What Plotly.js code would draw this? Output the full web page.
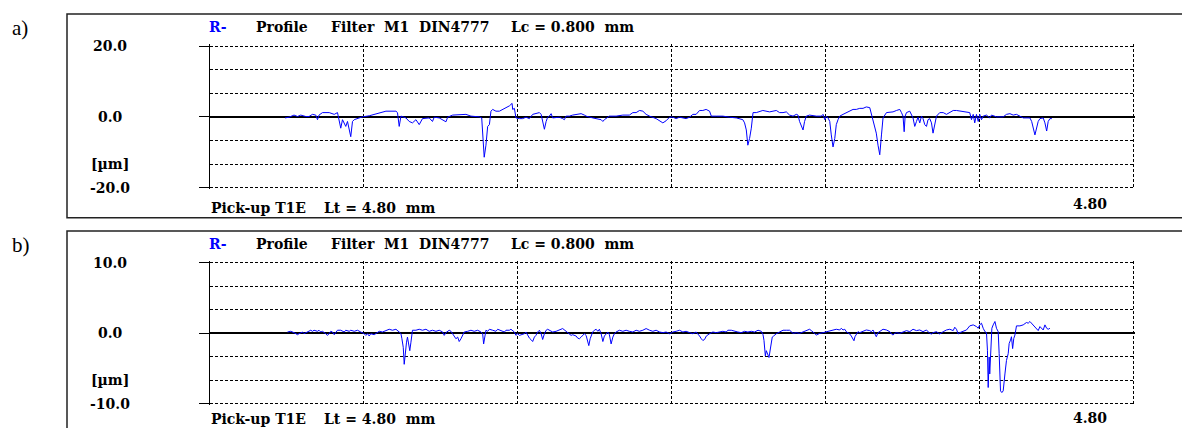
<!DOCTYPE html>
<html>
<head>
<meta charset="utf-8">
<script src="https://cdn.plot.ly/plotly-3.0.1.min.js"></script>
<style>html,body{margin:0;padding:0;background:#fff;}#chart{width:1182px;height:428px;}</style>
</head>
<body>
<div id="chart"></div>
<script>
// ---- Panel a) profile (x in mm, z in µm)
const topX = [0.390,0.411,0.437,0.455,0.472,0.498,0.515,0.533,0.550,0.559,0.567,0.585,0.620,0.646,0.663,0.672,0.680,0.689,0.698,0.706,0.715,0.724,0.732,0.741,0.750,0.776,0.793,0.828,0.854,0.880,0.915,0.967,0.975,0.984,0.993,1.019,1.036,1.053,1.071,1.088,1.105,1.140,1.157,1.166,1.192,1.227,1.236,1.262,1.296,1.331,1.357,1.400,1.413,1.418,1.426,1.435,1.444,1.453,1.461,1.470,1.487,1.505,1.522,1.539,1.557,1.571,1.574,1.583,1.591,1.609,1.626,1.643,1.661,1.678,1.695,
1.704,1.713,1.722,1.730,1.739,1.748,1.756,1.765,1.774,1.782,1.800,1.817,1.834,1.843,1.852,1.869,1.886,1.921,1.930,1.947,1.956,1.990,2.008,2.034,2.043,2.051,2.077,2.112,2.147,2.181,2.199,2.216,2.234,2.251,2.268,2.286,2.320,2.338,2.355,2.372,2.390,2.407,2.424,2.442,2.459,2.476,2.494,2.511,2.528,2.546,2.563,2.580,2.598,2.607,2.633,2.667,2.702,2.737,2.771,2.780,2.789,2.797,2.806,2.815,2.824,2.841,2.875,2.910,2.945,2.962,2.980,2.997,3.014,
3.032,3.049,3.058,3.066,3.084,3.092,3.101,3.118,3.153,3.179,3.188,3.197,3.205,3.214,3.223,3.231,3.240,3.249,3.257,3.266,3.275,3.292,3.309,3.327,3.344,3.361,3.379,3.396,3.413,3.431,3.439,3.448,3.457,3.465,3.474,3.483,3.492,3.500,3.518,3.535,3.552,3.570,3.587,3.596,3.604,3.610,3.615,3.622,3.639,3.656,3.665,3.674,3.682,3.691,3.700,3.708,3.717,3.726,3.734,3.743,3.752,3.760,3.769,3.778,3.795,3.813,3.830,3.847,3.865,3.882,3.899,3.917,3.934,3.951,3.960,3.969,3.977,3.986,3.995,4.003,4.012,4.021,4.038,4.055,4.064,4.090,4.125,4.142,4.160,4.177,4.194,4.212,4.229,4.264,4.273,4.290,4.298,4.307,4.316,4.333,4.342,4.351,4.359,4.368,4.378];
const topZ = [-0.3,-0.1,0.5,0.1,0.5,0.1,0.1,0.7,0.5,-0.8,0.5,1.2,1.2,0.7,1.2,-0.8,-3.2,-0.8,-1.7,-2.7,-1.3,-3.2,-5.6,-1.3,-0.8,-0.3,0,0.3,0.7,1.2,1.6,1.6,1.2,-2.7,0.2,-0.3,-1.3,-1.7,-0.8,-2.2,-0.5,-0.3,-1.3,-0.1,-0.3,-1.4,-0.1,0.5,0.7,0.7,0.2,0,-0.3,-4.2,-11.4,-8.0,-2.7,-2.2,1.6,2.1,1.6,1.6,2.1,2.6,3.1,3.8,2.1,2.4,-0.3,-0.5,-0.5,-0.1,-0.5,0.7,0.9,
0.9,1.2,0.7,-1.3,-3.5,-1.3,-0.1,0.2,0.9,-0.3,-0.3,-0.1,-0.5,-0.8,0.2,0.2,0.5,0.7,0.9,0.5,0.2,-0.3,-0.5,-0.8,-1.3,-0.8,0.2,0.2,0.5,0.5,1.2,1.2,1.8,1.6,0.7,0.2,-0.5,-1.1,-1.7,-1.1,-0.1,-0.1,-0.5,-0.1,-0.3,-0.5,-0.1,0.7,0.7,1.8,1.8,2.1,1.6,0.2,0.2,0.2,-0.1,-0.3,-0.8,-1.7,-3.7,-8.0,-6.1,-3.2,1.2,1.2,1.8,1.4,1.8,1.2,1.2,1.4,0.5,
0.2,0.7,0.5,-1.3,-3.7,-1.3,0.2,0.5,0.2,0.2,0.7,-0.8,0.2,-0.3,-1.3,-5.1,-8.5,-6.1,-2.2,-0.8,0.2,0.7,1.2,1.6,2.1,2.1,2.4,2.4,2.8,2.6,0.7,-1.3,-2.7,-4.6,-8.0,-10.7,-5.1,-0.3,1.2,1.2,1.4,1.8,2.1,1.2,0.2,-4.2,0.2,1.2,1.6,-0.3,-2.7,-1.3,-0.1,-1.7,0.2,-0.5,-2.2,-2.7,-0.8,-0.5,-1.7,-4.6,-2.2,0.2,1.2,1.2,0.7,1.2,1.8,1.8,1.6,1.4,1.4,1.2,-0.8,0.7,-1.7,0.7,-1.3,0.7,-0.8,0.2,0.5,-0.3,0.5,0,0,0.7,0.9,0.5,0.7,0.2,-0.3,-0.3,-1.3,-5.1,-3.2,-1.3,-0.5,-0.3,-1.7,-4.0,-1.3,-0.5,-0.5];

// ---- Panel b) profile (x in mm, z in µm)
const botX = [0.403,0.420,0.437,0.455,0.463,0.481,0.489,0.507,0.524,0.533,0.541,0.559,0.567,0.576,0.585,0.602,0.611,0.619,0.628,0.637,0.646,0.663,0.680,0.698,0.706,0.724,0.732,0.750,0.767,0.784,0.802,0.810,0.819,0.828,0.836,0.854,0.871,0.880,0.897,0.915,0.932,0.949,0.967,0.984,0.993,0.998,1.005,1.010,1.015,1.022,1.027,1.033,1.039,1.045,1.050,1.053,1.071,1.088,1.105,1.123,1.140,1.157,1.175,1.192,1.210,1.218,1.227,1.244,1.253,1.262,1.270,1.279,1.288,1.296,1.305,1.314,1.322,1.340,1.357,1.374,1.392,1.409,1.418,1.423,1.430,1.435,1.444,1.453,1.470,1.487,1.496,1.513,1.531,1.539,1.557,1.565,1.574,1.583,1.591,1.600,1.609,1.617,1.635,1.643,1.652,1.661,1.669,1.678,1.687,1.695,1.704,
1.713,1.722,1.730,1.739,1.748,1.756,1.765,1.774,1.782,1.800,1.817,1.834,1.852,1.869,1.878,1.886,1.904,1.912,1.921,1.930,1.938,1.947,1.956,1.964,1.970,1.977,1.982,1.990,1.999,2.008,2.017,2.025,2.034,2.043,2.051,2.060,2.069,2.077,2.086,2.095,2.103,2.112,2.129,2.147,2.164,2.181,2.199,2.216,2.233,2.251,2.268,2.286,2.303,2.320,2.338,2.355,2.372,2.390,2.407,2.424,2.442,2.459,2.476,2.494,2.511,2.528,2.537,2.546,2.555,2.563,2.572,2.581,2.598,2.615,2.633,2.650,2.667,2.685,2.693,2.711,2.728,2.745,2.763,2.780,2.797,2.815,2.832,2.850,2.867,2.876,2.881,2.888,2.893,2.902,2.907,2.914,2.919,2.924,2.931,2.945,2.962,2.980,2.997,3.014,
3.032,3.049,3.066,3.084,3.101,3.118,3.127,3.136,3.144,3.153,3.171,3.188,3.205,3.223,3.240,3.257,3.275,3.283,3.292,3.301,3.309,3.327,3.335,3.344,3.349,3.354,3.361,3.370,3.379,3.396,3.413,3.431,3.439,3.448,3.457,3.465,3.474,3.483,3.500,3.518,3.535,3.544,3.552,3.561,3.570,3.587,3.604,3.622,3.639,3.656,3.674,3.691,3.708,3.726,3.743,3.752,3.760,3.778,3.795,3.804,3.813,3.830,3.847,3.865,3.873,3.882,3.891,3.899,3.917,3.934,3.951,3.969,3.986,3.995,4.003,4.012,4.021,4.030,4.038,4.043,4.047,4.052,4.055,4.061,4.066,4.073,4.082,4.090,4.099,4.104,4.111,4.118,4.125,4.134,4.142,4.151,4.156,4.163,4.168,4.174,4.180,4.186,4.191,4.194,4.212,4.229,4.246,4.255,4.264,4.273,4.281,4.299,4.307,4.316,4.325,4.333,4.342,4.351,4.359,4.368];
const botZ = [0.14,0.24,0.05,-0.24,-0.10,0.14,-0.10,0.14,0.39,0.24,0.39,0.24,0.39,0.14,0.24,-0.10,-0.34,-0.10,0.24,0.14,-0.24,0.39,0.39,0.14,0.39,0.24,0.39,0.24,0.39,0.14,-0.10,-0.34,-0.10,-0.43,-0.10,-0.24,0.14,0.24,0.14,0.39,0.53,0.39,0.53,0.14,-0.10,-0.82,-2.03,-4.44,-2.75,-1.30,-0.58,-1.79,-2.51,-1.30,0.14,0.39,0.39,0.53,0.39,0.53,0.24,0.39,0.24,0.39,0.14,-0.34,0.05,0.39,0.24,-0.10,-0.34,-0.82,-0.58,-1.21,-0.82,-0.34,0.14,0.24,0.39,0.24,0.39,0.14,-0.10,-1.55,-0.10,0.39,0.24,0.53,0.39,0.24,0.53,0.39,0.14,0.39,0.39,0.53,0.39,0.14,-0.34,-0.10,-0.34,-0.24,-0.10,0.14,-0.34,-0.72,-0.92,-1.21,-0.58,-0.34,0.14,
0.39,-0.10,-0.92,-0.10,0.39,0.53,0.39,0.24,0.14,0.24,0.39,0.63,0.24,-0.10,-0.34,-0.24,-0.43,-0.72,-0.82,-0.58,-0.34,-0.10,-0.34,-1.06,-1.79,-0.82,-0.34,0.14,0.39,0.53,0.24,0.53,-0.10,-1.21,-0.43,-0.10,0.14,-0.24,-1.55,-0.58,-0.10,0.14,0.39,0.24,0.39,0.24,0.14,0.39,0.24,0.39,0.63,0.39,0.24,0.39,0.14,0.05,0.14,-0.10,0.14,0.24,0.39,0.14,0.24,0.05,-0.10,0.14,-0.10,-0.43,-0.82,-1.06,-0.92,-0.43,-0.10,0.14,0.05,0.14,0.24,0.14,0.39,0.39,0.24,0.14,0.05,0.24,0.14,0.24,0.14,0.39,0.24,-0.24,-1.06,-3.24,-2.51,-2.99,-3.48,-2.27,-1.30,-0.58,-0.43,-0.10,0.14,0.39,0.39,0.39,
-0.05,0.05,-0.05,0.19,0.34,0.53,0.34,0.19,-0.05,-0.29,-0.05,0.05,0.19,0.34,0.43,0.53,0.43,0.67,0.43,0.53,0.19,-0.14,-0.43,-0.77,-1.10,-0.53,-0.14,0.19,0.05,0.19,0.43,0.34,0.19,0.43,-0.14,-0.53,0.05,0.19,0.53,0.43,0.19,-0.14,-0.29,-0.05,0.05,-0.05,0.19,0.34,0.19,0.53,0.34,0.43,0.19,0.43,-0.05,-0.14,0.05,0.19,-0.14,0.05,0.19,0.43,0.53,0.34,0.82,0.53,-0.14,0.05,0.19,0.43,1.01,1.15,0.91,0.67,1.15,1.39,0.67,0.19,0.05,-2.45,-7.73,-3.41,-5.81,-1.97,0.67,1.15,1.63,0.67,0.19,-2.93,-8.21,-8.45,-8.21,-5.81,-3.89,-2.93,-1.49,-1.01,-0.53,-2.21,-0.77,-0.29,0.67,1.01,1.01,1.15,1.49,1.39,1.63,1.39,1.15,0.67,0.34,0.91,0.67,0.43,1.15,0.67,0.53,0.67];

// ---- axis / label values
const lengthMM = 4.80;
const xGrid = [0.8, 1.6, 2.4, 3.2, 4.0, 4.8];
const topRange = 20, botRange = 10;
const topTickText = ["20.0", "0.0", "-20.0"];
const botTickText = ["10.0", "0.0", "-10.0"];
const unitLabel = "[µm]";
const panelLetters = ["a)", "b)"];
const titleParts = ["R-", "Profile", "Filter\u00a0\u00a0M1\u00a0\u00a0DIN4777", "Lc = 0.800\u00a0\u00a0mm"];
const footParts = ["Pick-up T1E", "Lt = 4.80\u00a0\u00a0mm"];
const endLabel = "4.80";

const W = 1182, H = 428;
const px = v => v / W;
const py = v => 1 - v / H;
const FONT = "DejaVu Serif";
const dash = "3px,2px";
const OV = 1.6; // px of axis overshoot so that boundary grid lines are drawn

function yAxis(r, topPx, botPx, anchor) {
  const thirds = [-2*r/3, -r/3, r/3, 2*r/3];
  const half = (botPx - topPx) / 2;
  const rr = r * (half + OV) / half;
  return {
    domain: [py(botPx + OV), py(topPx - OV)], anchor: anchor, range: [-rr, rr], fixedrange: true,
    tickmode: "array", tickvals: [r, 0, -r], showticklabels: false,
    ticks: "outside", ticklen: 10, tickwidth: 1, tickcolor: "#000",
    showgrid: true, gridcolor: "#000", gridwidth: 1, griddash: dash,
    zeroline: true, zerolinecolor: "#000", zerolinewidth: 1.3,
    showline: true, linecolor: "#000", linewidth: 1.3,
    minor: {tickmode: "array", tickvals: thirds, showgrid: true, gridcolor: "#000", gridwidth: 1, griddash: dash, ticks: ""}
  };
}
function xAxis(anchor) {
  const L = 210, R = 1133;
  return {
    domain: [px(L), px(R + OV)], anchor: anchor, range: [0, lengthMM * (R - L + OV) / (R - L)], fixedrange: true,
    tickmode: "array", tickvals: xGrid, showticklabels: false, ticks: "",
    showgrid: true, gridcolor: "#000", gridwidth: 1, griddash: dash,
    zeroline: false, showline: false
  };
}

const traces = [
  {x: topX, y: topZ, xaxis: "x", yaxis: "y", type: "scatter", mode: "lines",
   line: {color: "#0000ff", width: 1}, hoverinfo: "skip"},
  {x: botX, y: botZ, xaxis: "x2", yaxis: "y2", type: "scatter", mode: "lines",
   line: {color: "#0000ff", width: 1}, hoverinfo: "skip"}
];

const ann = [];
const panels = [
  {off: 0, foot: 208, end: 204, yref: "y", r: topRange, ticks: topTickText, letter: panelLetters[0]},
  {off: 216.5, foot: 418.5, end: 417.5, yref: "y2", r: botRange, ticks: botTickText, letter: panelLetters[1]}
];
const titleX = [208, 255, 330, 510];
const footX = [210, 323];
panels.forEach(p => {
  const f = {family: FONT, size: 14, color: "#000", weight: "bold"};
  ann.push({text: p.letter, xref: "paper", yref: "paper", x: px(10), y: py(28 + p.off),
    xanchor: "left", yanchor: "middle", showarrow: false,
    font: {family: "Liberation Serif, Times New Roman, serif", size: 21, color: "#000"}});
  titleParts.forEach((t, i) => ann.push({text: t, xref: "paper", yref: "paper",
    x: px(titleX[i]), y: py(27.5 + p.off), xanchor: "left", yanchor: "middle", showarrow: false,
    borderpad: 0, font: i === 0 ? {family: FONT, size: 14, color: "#0000ff", weight: "bold"} : f}));
  footParts.forEach((t, i) => ann.push({text: t, xref: "paper", yref: "paper",
    x: px(footX[i]), y: py(p.foot), xanchor: "left", yanchor: "middle", showarrow: false,
    borderpad: 0, font: f}));
  ann.push({text: endLabel, xref: "paper", yref: "paper", x: px(1090), y: py(p.end),
    xanchor: "center", yanchor: "middle", showarrow: false, borderpad: 0, font: f});
  [p.r, 0, -p.r].forEach((v, i) => ann.push({text: p.ticks[i], xref: "paper", yref: p.yref,
    x: px(110), y: v, xanchor: "center", yanchor: "middle", showarrow: false, borderpad: 0, font: f}));
  ann.push({text: unitLabel, xref: "paper", yref: p.yref, x: px(110), y: -2 * p.r / 3,
    xanchor: "center", yanchor: "middle", showarrow: false, borderpad: 0, font: f});
});

const shapes = [
  {type: "rect", xref: "paper", yref: "paper", x0: px(67), x1: 1.02, y0: py(217.7), y1: py(14),
   line: {color: "#222", width: 1.5}, fillcolor: "rgba(0,0,0,0)", layer: "below"},
  {type: "rect", xref: "paper", yref: "paper", x0: px(67), x1: 1.02, y0: -0.05, y1: py(231),
   line: {color: "#222", width: 1.5}, fillcolor: "rgba(0,0,0,0)", layer: "below"}
];

const layout = {
  width: W, height: H, margin: {l: 0, r: 0, t: 0, b: 0},
  paper_bgcolor: "#fff", plot_bgcolor: "rgba(0,0,0,0)", showlegend: false,
  xaxis: xAxis("y"), yaxis: yAxis(topRange, 46, 187.7, "x"),
  xaxis2: xAxis("y2"), yaxis2: yAxis(botRange, 262.5, 403.5, "x2"),
  annotations: ann, shapes: shapes
};

Plotly.newPlot("chart", traces, layout, {displayModeBar: false, staticPlot: true});
</script>
</body>
</html>
